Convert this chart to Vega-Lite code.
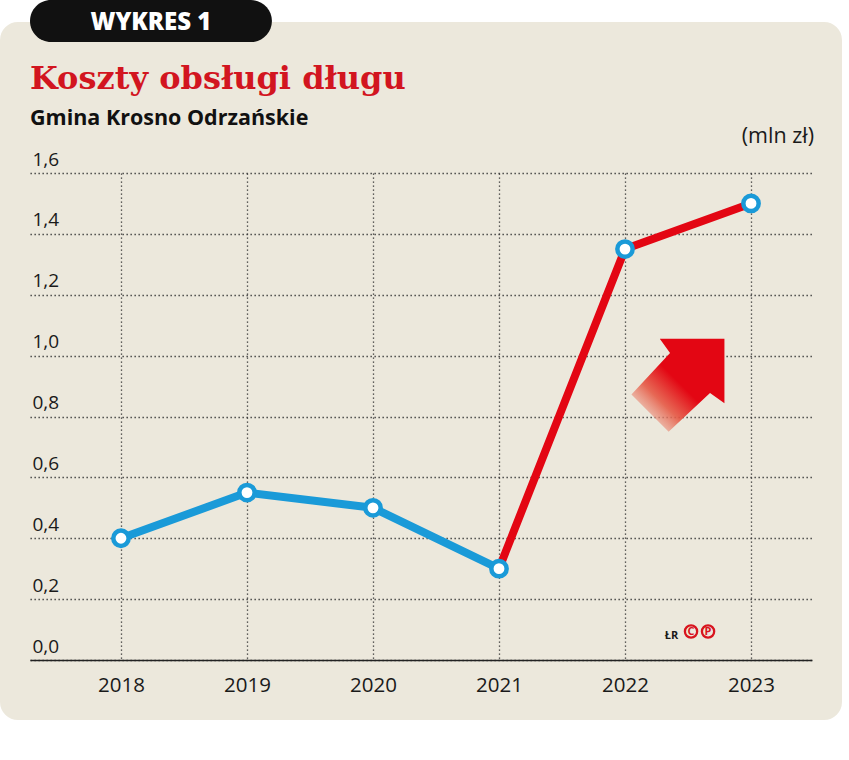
{
  "$schema": "https://vega.github.io/schema/vega-lite/v6.json",
  "autosize": {"type": "none"},
  "width": 782,
  "height": 487,
  "padding": {"left": 30, "top": 173, "right": 37, "bottom": 100},
  "background": "#ece8dc",
  "config": {"view": {"stroke": null}},
  "datasets": {
    "segs": [
      {"year": 2018, "value": 0.4, "seg": "a"},
      {"year": 2019, "value": 0.55, "seg": "a"},
      {"year": 2020, "value": 0.5, "seg": "a"},
      {"year": 2021, "value": 0.3, "seg": "a"},
      {"year": 2021, "value": 0.3, "seg": "b"},
      {"year": 2022, "value": 1.35, "seg": "b"},
      {"year": 2023, "value": 1.5, "seg": "b"}
    ],
    "pts": [
      {"year": 2018, "value": 0.4},
      {"year": 2019, "value": 0.55},
      {"year": 2020, "value": 0.5},
      {"year": 2021, "value": 0.3},
      {"year": 2022, "value": 1.35},
      {"year": 2023, "value": 1.5}
    ],
    "one": [{"label": "x"}]
  },
  "layer": [
    {
      "data": {"name": "segs"},
      "mark": {"type": "line", "strokeWidth": 8, "strokeCap": "butt", "strokeJoin": "round"},
      "encoding": {
        "x": {
          "field": "year", "type": "quantitative", "title": null,
          "scale": {"domain": [2017.278, 2023.484], "nice": false, "zero": false},
          "axis": {
            "values": [2018, 2019, 2020, 2021, 2022, 2023],
            "format": "d",
            "grid": true, "gridDash": [1.3, 2.7], "gridColor": "#333333", "gridWidth": 1.3,
            "domain": true, "domainColor": "#222222", "domainWidth": 1.6,
            "ticks": false, "tickSize": 0,
            "labelFont": "Open Sans", "labelFontSize": 20.5, "labelColor": "#1a1a1a",
            "labelPadding": 15
          }
        },
        "y": {
          "field": "value", "type": "quantitative", "title": null,
          "scale": {"domain": [0, 1.6], "nice": false, "zero": true},
          "axis": {
            "values": [0, 0.2, 0.4, 0.6, 0.8, 1.0, 1.2, 1.4, 1.6],
            "labelExpr": "replace(format(datum.value, '.1f'), '.', ',')",
            "grid": true, "gridDash": [1.3, 2.7], "gridColor": "#333333", "gridWidth": 1.3,
            "domain": false, "ticks": false, "tickSize": 0,
            "labelFont": "Open Sans", "labelFontSize": 19, "labelColor": "#1a1a1a",
            "labelAlign": "left", "labelBaseline": "alphabetic",
            "labelPadding": -2, "labelOffset": -8
          }
        },
        "detail": {"field": "seg"},
        "color": {
          "field": "seg", "type": "nominal", "legend": null,
          "scale": {"domain": ["a", "b"], "range": ["#1a9ad8", "#e30613"]}
        }
      }
    },
    {
      "data": {"name": "pts"},
      "mark": {"type": "point", "shape": "circle", "filled": true, "fill": "#ffffff", "stroke": "#1a9ad8", "strokeWidth": 4.5, "size": 235, "opacity": 1},
      "encoding": {
        "x": {"field": "year", "type": "quantitative", "title": null},
        "y": {"field": "value", "type": "quantitative", "title": null}
      }
    },
    {
      "data": {"name": "one"},
      "mark": {
        "type": "point",
        "shape": "M1,-1 L-0.39,-1 L-0.17,-0.69 L-1,0.2 L-0.2,1 L0.69,0.17 L1,0.39 Z",
        "size": 8650,
        "filled": true,
        "opacity": 1,
        "strokeWidth": 0,
        "fill": {
          "gradient": "linear", "x1": 0, "y1": 1, "x2": 1, "y2": 0,
          "stops": [
            {"offset": 0, "color": "rgba(236,232,220,0)"},
            {"offset": 0.14, "color": "rgba(236,175,155,0.55)"},
            {"offset": 0.32, "color": "rgba(230,90,70,0.9)"},
            {"offset": 0.52, "color": "#e30613"},
            {"offset": 1, "color": "#e30613"}
          ]
        }
      },
      "encoding": {
        "x": {"datum": 2022.42, "type": "quantitative", "title": null},
        "y": {"datum": 0.903, "type": "quantitative", "title": null}
      }
    },
    {
      "data": {"name": "one"},
      "mark": {"type": "text", "text": "ŁR", "font": "Open Sans", "fontSize": 11, "fontWeight": "bold", "color": "#1a1a1a", "align": "center", "baseline": "alphabetic"},
      "encoding": {
        "x": {"datum": 2022.369, "type": "quantitative", "title": null},
        "y": {"datum": 0.069, "type": "quantitative", "title": null}
      }
    },
    {
      "data": {"name": "one"},
      "encoding": {
        "x": {"datum": 2022.524, "type": "quantitative", "title": null},
        "y": {"datum": 0.0936, "type": "quantitative", "title": null}
      },
      "layer": [
        {"mark": {"type": "point", "shape": "circle", "filled": false, "stroke": "#d8141e", "strokeWidth": 2.3, "size": 150, "opacity": 1}},
        {"mark": {"type": "text", "text": "C", "font": "Open Sans", "fontSize": 11, "fontWeight": "bold", "color": "#d8141e", "align": "center", "baseline": "middle", "dy": 0.5}}
      ]
    },
    {
      "data": {"name": "one"},
      "encoding": {
        "x": {"datum": 2022.659, "type": "quantitative", "title": null},
        "y": {"datum": 0.0936, "type": "quantitative", "title": null}
      },
      "layer": [
        {"mark": {"type": "point", "shape": "circle", "filled": false, "stroke": "#d8141e", "strokeWidth": 2.3, "size": 150, "opacity": 1}},
        {"mark": {"type": "text", "text": "P", "font": "Open Sans", "fontSize": 11, "fontWeight": "bold", "color": "#d8141e", "align": "center", "baseline": "middle", "dy": 0.5}}
      ]
    },
    {
      "data": {"name": "one"},
      "mark": {"type": "text", "text": "(mln zł)", "font": "Open Sans", "fontSize": 21.5, "color": "#1a1a1a", "align": "right", "baseline": "alphabetic"},
      "encoding": {
        "x": {"datum": 2023.5, "type": "quantitative", "title": null},
        "y": {"datum": 1.698, "type": "quantitative", "title": null}
      }
    },
    {
      "data": {"name": "one"},
      "mark": {"type": "text", "text": "Koszty obsługi długu", "font": "DejaVu Serif", "fontSize": 32, "fontWeight": "bold", "color": "#d2151f", "align": "left", "baseline": "alphabetic"},
      "encoding": {
        "x": {"datum": 2017.278, "type": "quantitative", "title": null},
        "y": {"datum": 1.8758, "type": "quantitative", "title": null}
      }
    },
    {
      "data": {"name": "one"},
      "mark": {"type": "text", "text": "Gmina Krosno Odrzańskie", "font": "Open Sans", "fontSize": 21.5, "fontWeight": "bold", "color": "#111111", "align": "left", "baseline": "alphabetic"},
      "encoding": {
        "x": {"datum": 2017.278, "type": "quantitative", "title": null},
        "y": {"datum": 1.7576, "type": "quantitative", "title": null}
      }
    },
    {
      "data": {"name": "one"},
      "mark": {"type": "rect", "filled": false, "stroke": "#ffffff", "strokeWidth": 60, "cornerRadius": 48},
      "encoding": {
        "x": {"datum": 2016.802, "type": "quantitative", "title": null},
        "x2": {"datum": 2023.96},
        "y": {"datum": 2.1945, "type": "quantitative", "title": null},
        "y2": {"datum": -0.2957}
      }
    },
    {
      "data": {"name": "one"},
      "mark": {"type": "rect", "fill": "#111111", "cornerRadius": 21},
      "encoding": {
        "x": {"datum": 2017.278, "type": "quantitative", "title": null},
        "x2": {"datum": 2019.198},
        "y": {"datum": 2.168, "type": "quantitative", "title": null},
        "y2": {"datum": 2.03}
      }
    },
    {
      "data": {"name": "one"},
      "mark": {"type": "text", "text": "WYKRES 1", "font": "Open Sans", "fontSize": 24, "fontWeight": 800, "letterSpacing": 2.5, "color": "#ffffff", "align": "center", "baseline": "alphabetic"},
      "encoding": {
        "x": {"datum": 2018.238, "type": "quantitative", "title": null},
        "y": {"datum": 2.0696, "type": "quantitative", "title": null}
      }
    }
  ]
}
